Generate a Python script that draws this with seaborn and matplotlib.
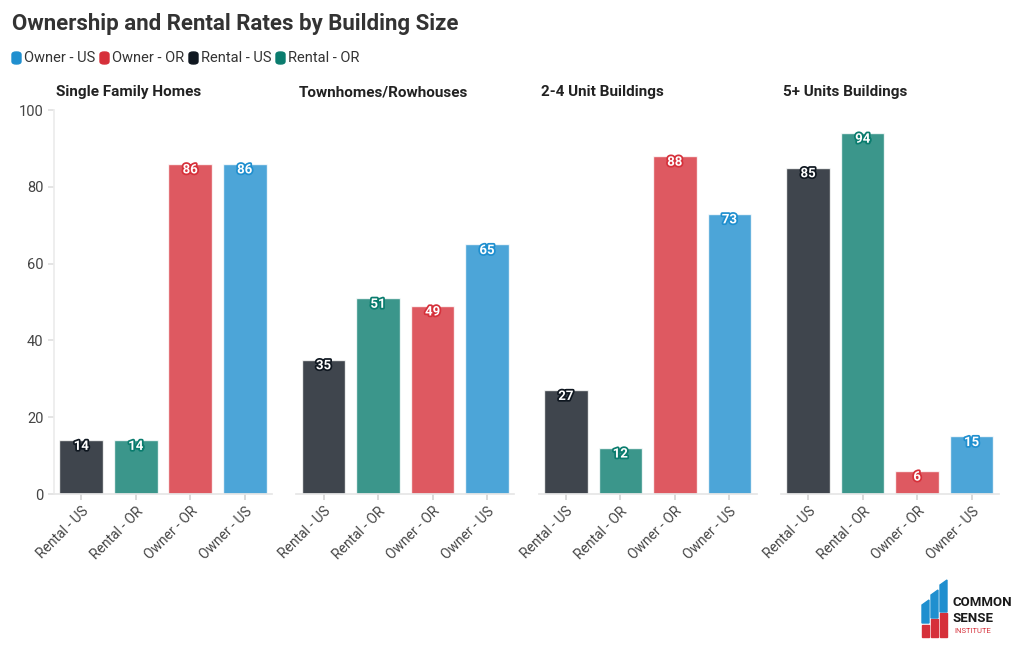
import pandas as pd
import matplotlib.pyplot as plt
import matplotlib.patheffects as pe
from matplotlib.patches import FancyBboxPatch, Rectangle, Polygon
import seaborn as sns

# Chart data
buildings = ['Single Family Homes', 'Townhomes/Rowhouses', '2-4 Unit Buildings', '5+ Units Buildings']
groups = ['Rental - US', 'Rental - OR', 'Owner - OR', 'Owner - US']
rental_us = [14, 35, 27, 85]
rental_or = [14, 51, 12, 94]
owner_or = [86, 49, 88, 6]
owner_us = [86, 65, 73, 15]
legend_order = ['Owner - US', 'Owner - OR', 'Rental - US', 'Rental - OR']

colors = {
    'Owner - US': '#1f8fcf',
    'Owner - OR': '#d6303a',
    'Rental - US': '#0f1720',
    'Rental - OR': '#0a7c6e',
}

rows = []
for i, b in enumerate(buildings):
    for g, vals in zip(groups, [rental_us, rental_or, owner_or, owner_us]):
        rows.append({'building': b, 'group': g, 'value': vals[i]})
data = pd.DataFrame(rows)

sns.set_theme(style='white')
plt.rcParams['font.family'] = ['Roboto', 'DejaVu Sans']

fig = plt.figure(figsize=(10.2, 6.5), dpi=100)

W, H = 1020, 650
for i, b in enumerate(buildings):
    left = 54 + i * 242.3
    ax = fig.add_axes([left / W, (H - 494) / H, 218 / W, 384 / H])
    sub = data[data['building'] == b]
    sns.barplot(data=sub, x='group', y='value', hue='group', order=groups,
                hue_order=groups, palette=colors, alpha=0.8, width=0.8,
                saturation=1, legend=False, ax=ax)
    ax.set_ylim(0, 100)
    ax.set_xlim(-0.5, 3.5)
    ax.set_xlabel('')
    ax.set_ylabel('')
    ax.set_title(b, loc='left', fontsize=11, fontweight='bold', color='#222222',
                 pad=10, x=0.01)
    for s in ['top', 'right']:
        ax.spines[s].set_visible(False)
    ax.spines['bottom'].set_color('#e6e6e6')
    ax.tick_params(axis='x', length=4, color='#d5d5d5', labelsize=10,
                   labelcolor='#444444', bottom=True)
    plt.setp(ax.get_xticklabels(), rotation=45, ha='right', rotation_mode='anchor')
    if i == 0:
        ax.spines['left'].set_color('#ececec')
        ax.set_yticks([0, 20, 40, 60, 80, 100])
        ax.tick_params(axis='y', length=4, color='#e0e0e0', labelsize=10.5,
                       labelcolor='#444444', left=True)
    else:
        ax.spines['left'].set_visible(False)
        ax.set_yticks([])
    # value labels
    for j, g in enumerate(groups):
        v = sub.loc[sub['group'] == g, 'value'].iloc[0]
        ax.text(j, v - 1.6, str(v), ha='center', va='center', fontsize=9.5,
                fontweight='bold', color='white',
                path_effects=[pe.withStroke(linewidth=2.5, foreground=colors[g])])

# Title
fig.text(12 / W, 1 - 24 / H, 'Ownership and Rental Rates by Building Size',
         fontsize=16, fontweight='bold', color='#333333', va='center')

# Legend
legend_x = [12, 100, 189, 276]
for name, x in zip(legend_order, legend_x):
    fig.patches.append(FancyBboxPatch((x / W, (H - 64) / H), 9 / W, 12 / H,
                                      boxstyle='round,pad=0,rounding_size=0.004',
                                      transform=fig.transFigure, color=colors[name]))
    fig.text((x + 12) / W, 1 - 58 / H, name, fontsize=10.5, color='#333333',
             va='center')

# Logo
red = '#d6303a'
blue = '#1f8fcf'
logo = [
    Rectangle((922 / W, (H - 637) / H), 7 / W, 12 / H, color=red),
    Rectangle((931 / W, (H - 637) / H), 7 / W, 18 / H, color=red),
    Rectangle((940 / W, (H - 637) / H), 7 / W, 24 / H, color=red),
    Polygon([(922 / W, (H - 623) / H), (929 / W, (H - 623) / H),
             (929 / W, (H - 600) / H), (922 / W, (H - 605) / H)], color=blue),
    Polygon([(931 / W, (H - 618) / H), (938 / W, (H - 618) / H),
             (938 / W, (H - 590) / H), (931 / W, (H - 595) / H)], color=blue),
    Polygon([(940 / W, (H - 612) / H), (947 / W, (H - 612) / H),
             (947 / W, (H - 580) / H), (940 / W, (H - 585) / H)], color=blue),
]
for p in logo:
    p.set_transform(fig.transFigure)
    fig.patches.append(p)
fig.text(953 / W, 1 - 603 / H, 'COMMON', fontsize=9.5, fontweight='bold',
         color='#1a1a1a', va='center')
fig.text(953 / W, 1 - 618 / H, 'SENSE', fontsize=9.5, fontweight='bold',
         color='#1a1a1a', va='center')
fig.text(954 / W, 1 - 631 / H, 'INSTITUTE', fontsize=5.5, color=red, va='center')

fig.savefig('out.png', dpi=100, facecolor='white')
plt.close()
